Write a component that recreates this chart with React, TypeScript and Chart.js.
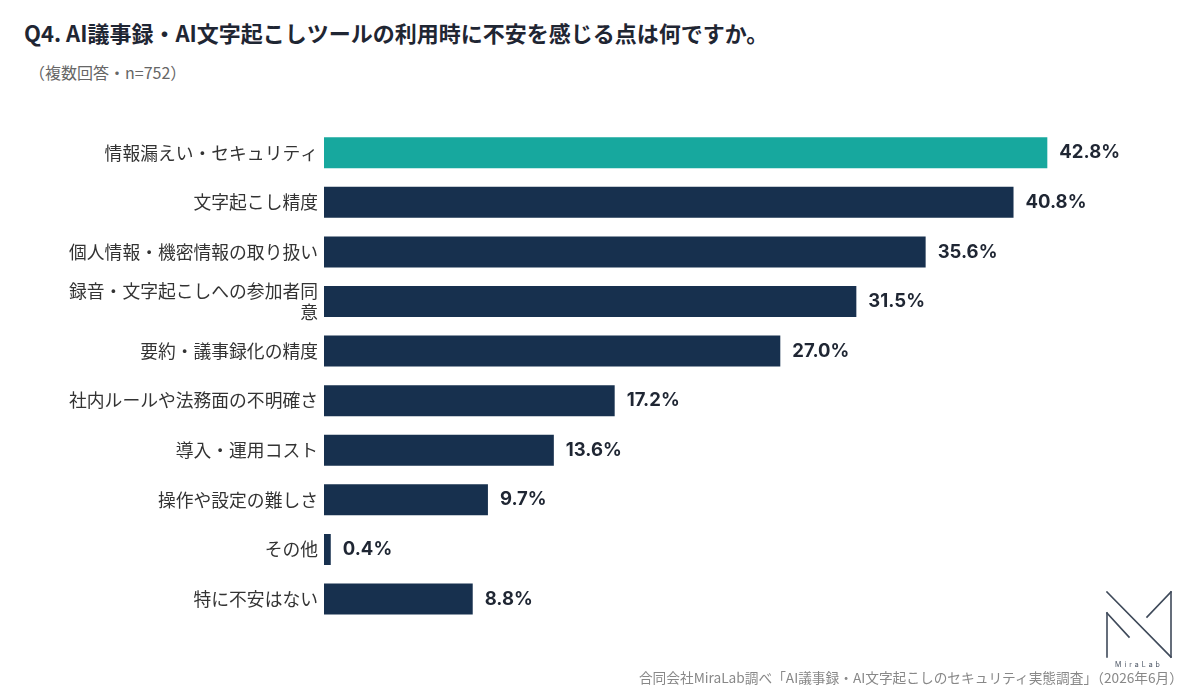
import React, { useEffect, useRef } from "react";
import { Chart, registerables } from "chart.js";

Chart.register(...registerables);

const categories: (string | string[])[] = [
  "情報漏えい・セキュリティ",
  "文字起こし精度",
  "個人情報・機密情報の取り扱い",
  ["録音・文字起こしへの参加者同", "意"],
  "要約・議事録化の精度",
  "社内ルールや法務面の不明確さ",
  "導入・運用コスト",
  "操作や設定の難しさ",
  "その他",
  "特に不安はない",
];
const values: number[] = [42.8, 40.8, 35.6, 31.5, 27.0, 17.2, 13.6, 9.7, 0.4, 8.8];
const highlightIndex = 0;

const TEAL = "#17a89e";
const NAVY = "#17304e";
const JP = '"Noto Sans CJK JP", "Noto Sans", sans-serif';

const valueLabelPlugin = {
  id: "valueLabels",
  afterDatasetsDraw(chart: any) {
    const ctx = chart.ctx;
    const meta = chart.getDatasetMeta(0);
    ctx.save();
    ctx.font = `700 18.5px Inter, "Noto Sans", sans-serif`;
    ctx.fillStyle = "#1f2633";
    ctx.textAlign = "left";
    ctx.textBaseline = "middle";
    meta.data.forEach((bar: any, i: number) => {
      const v = chart.data.datasets[0].data[i] as number;
      ctx.fillText(`${v.toFixed(1)}%`, bar.x + 12, bar.y);
    });
    ctx.restore();
  },
};

export default function App() {
  const canvasRef = useRef<HTMLCanvasElement | null>(null);

  useEffect(() => {
    if (!canvasRef.current) return;
    const chart = new Chart(canvasRef.current, {
      type: "bar",
      data: {
        labels: categories,
        datasets: [
          {
            data: values,
            backgroundColor: values.map((_, i) => (i === highlightIndex ? TEAL : NAVY)),
            borderWidth: 0,
            categoryPercentage: 1,
            barPercentage: 0.625,
          },
        ],
      },
      options: {
        indexAxis: "y",
        animation: false,
        responsive: false,
        layout: { padding: { top: 18, bottom: 16, right: 31, left: 0 } },
        plugins: {
          legend: { display: false },
          tooltip: { enabled: false },
          title: { display: false },
        },
        scales: {
          x: { display: false, min: 0, max: 50 },
          y: {
            grid: { display: false, drawTicks: false },
            border: { display: false },
            ticks: {
              padding: 6,
              color: "#333333",
              font: { family: JP, size: 17.8, lineHeight: 1.15 },
            },
            afterFit(scale: any) {
              scale.width = 324;
            },
          },
        },
      },
      plugins: [valueLabelPlugin],
    });
    return () => chart.destroy();
  }, []);

  return (
    <div
      style={{
        position: "absolute",
        left: 0,
        top: 0,
        width: 1200,
        height: 689,
        background: "#ffffff",
        overflow: "hidden",
        fontFamily: JP,
      }}
    >
      <div
        style={{
          position: "absolute",
          left: 24,
          top: 18,
          lineHeight: "28px",
          fontSize: 22,
          fontWeight: 700,
          color: "#1f2633",
          whiteSpace: "nowrap",
        }}
      >
        Q4. AI議事録・AI文字起こしツールの利用時に不安を感じる点は何ですか。
      </div>
      <div
        style={{
          position: "absolute",
          left: 29,
          top: 61,
          lineHeight: "22px",
          fontSize: 16,
          color: "#666666",
          whiteSpace: "nowrap",
        }}
      >
        （複数回答・n=752）
      </div>
      <canvas
        ref={canvasRef}
        width={1200}
        height={530}
        style={{ position: "absolute", left: 0, top: 110, width: 1200, height: 530 }}
      />
      <svg
        width={1200}
        height={689}
        style={{ position: "absolute", left: 0, top: 0, pointerEvents: "none" }}
      >
        <g stroke="#3f4a5a" strokeWidth={1.6} fill="none" strokeLinecap="square">
          <line x1={1107} y1={592} x2={1171} y2={657} />
          <line x1={1107} y1={613} x2={1107} y2={657} />
          <line x1={1107} y1={613} x2={1129} y2={637} />
          <line x1={1171} y1={592} x2={1171} y2={657} />
          <line x1={1171} y1={592} x2={1147} y2={617} />
        </g>
        <text
          x={1139}
          y={667}
          textAnchor="middle"
          fontSize={7}
          fill="#4a5463"
          letterSpacing={3}
          fontFamily="Inter, sans-serif"
        >
          MiraLab
        </text>
      </svg>
      <div
        style={{
          position: "absolute",
          right: 17,
          top: 668,
          lineHeight: "18px",
          fontSize: 13.7,
          color: "#888888",
          whiteSpace: "nowrap",
        }}
      >
        合同会社MiraLab調べ「AI議事録・AI文字起こしのセキュリティ実態調査」（2026年6月）
      </div>
    </div>
  );
}
